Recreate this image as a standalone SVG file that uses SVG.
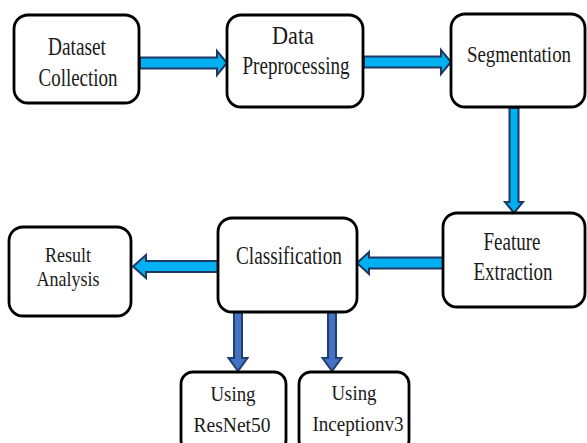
<svg xmlns="http://www.w3.org/2000/svg" width="587" height="443" viewBox="0 0 587 443">
<style>
.box{fill:#fff;stroke:#000;stroke-width:2.8}
text{font-family:'Liberation Serif','DejaVu Serif',serif;fill:#1a1a1a;text-anchor:middle}
.big{font-size:25px}
.sm{font-size:22px}
.ha{fill:#00B0F0;stroke:#1F3864;stroke-width:2;stroke-linejoin:miter}
.va{fill:#4472C4;stroke:#22406F;stroke-width:2;stroke-linejoin:miter}
</style>
<rect width="587" height="443" fill="#fff"/>
<g id="connectors">
<polygon class="ha" points="140,57.5 217,57.5 217,51 227,63 217,75 217,68.5 140,68.5"/>
<polygon class="ha" points="364,56.5 441,56.5 441,50 451,62 441,74 441,67.5 364,67.5"/>
<polygon class="ha" points="509.5,108 509.5,202 505,202 514,213 523,202 518.5,202 518.5,108"/>
<polygon class="ha" points="443,257.5 369,257.5 369,252 357,263 369,274 369,268.5 443,268.5"/>
<polygon class="ha" points="218,261 146,261 146,255 133,266.5 146,278 146,272 218,272"/>
<polygon class="va" points="234,312 234,358 228.5,358 238,371 247.5,358 242,358 242,312"/>
<polygon class="va" points="328,312 328,358 322.5,358 332,371 341.5,358 336,358 336,312"/>
</g>
<g id="dataset">
<rect class="box" x="14" y="15" width="125" height="88" rx="14"/>
<text class="big" x="77" y="55" textLength="58" lengthAdjust="spacingAndGlyphs">Dataset</text>
<text class="big" x="78" y="86" textLength="79" lengthAdjust="spacingAndGlyphs">Collection</text>
</g>
<g id="preprocessing">
<rect class="box" x="227" y="15" width="136" height="92" rx="14"/>
<text class="big" x="293" y="44" textLength="42" lengthAdjust="spacingAndGlyphs">Data</text>
<text class="big" x="296" y="74" textLength="107" lengthAdjust="spacingAndGlyphs">Preprocessing</text>
</g>
<g id="segmentation">
<rect class="box" x="451" y="14" width="134" height="93" rx="14"/>
<text transform="translate(519,62) scale(0.79,1)" x="0" y="0" font-size="24">Segmentation</text>
</g>
<g id="feature">
<rect class="box" x="443" y="213" width="142" height="94" rx="14"/>
<text class="big" x="512" y="250" textLength="57" lengthAdjust="spacingAndGlyphs">Feature</text>
<text class="big" x="513" y="280" textLength="79" lengthAdjust="spacingAndGlyphs">Extraction</text>
</g>
<g id="classification">
<rect class="box" x="218" y="218" width="139" height="94" rx="14"/>
<text class="big" x="289" y="264" textLength="106" lengthAdjust="spacingAndGlyphs">Classification</text>
</g>
<g id="result">
<rect class="box" x="9" y="227" width="122" height="89" rx="14"/>
<text class="sm" x="68" y="262" textLength="46" lengthAdjust="spacingAndGlyphs">Result</text>
<text class="sm" x="68" y="286" textLength="63" lengthAdjust="spacingAndGlyphs">Analysis</text>
</g>
<g id="resnet">
<rect class="box" x="181" y="372" width="105" height="80" rx="12"/>
<text class="sm" x="233" y="401" textLength="45" lengthAdjust="spacingAndGlyphs">Using</text>
<text class="sm" x="232" y="432" textLength="77" lengthAdjust="spacingAndGlyphs">ResNet50</text>
</g>
<g id="inception">
<rect class="box" x="299" y="372" width="110" height="80" rx="12"/>
<text class="sm" x="354" y="400" textLength="45" lengthAdjust="spacingAndGlyphs">Using</text>
<text class="sm" x="358" y="431" textLength="91" lengthAdjust="spacingAndGlyphs">Inceptionv3</text>
</g>
</svg>
